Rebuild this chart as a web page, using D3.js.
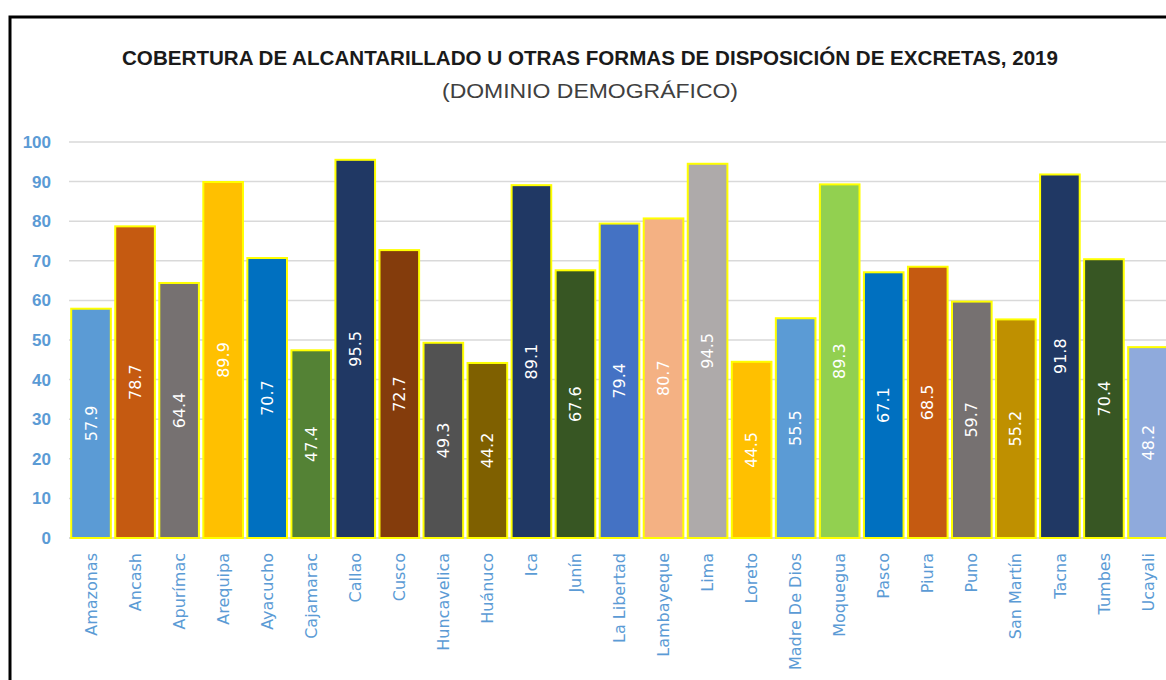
<!DOCTYPE html>
<html>
<head>
<meta charset="utf-8">
<script src="https://cdn.jsdelivr.net/npm/d3@7"></script>
<style>
  body { margin: 0; background: #fff; }
  svg { display: block; }
</style>
</head>
<body>
<svg id="chart" width="1166" height="680"></svg>
<script>
// Regions (labels kept as written in the source chart)
const regions = ["Amazonas", "Ancash", "Apurímac", "Arequipa", "Ayacucho", "Cajamarac",
  "Callao", "Cusco", "Huncavelica", "Huánuco", "Ica", "Junín", "La Libertad",
  "Lambayeque", "Lima", "Loreto", "Madre De Dios", "Moquegua", "Pasco", "Piura",
  "Puno", "San Martín", "Tacna", "Tumbes", "Ucayali"];

// Coverage values, %
const coverage = [57.9, 78.7, 64.4, 89.9, 70.7, 47.4, 95.5, 72.7, 49.3, 44.2, 89.1, 67.6,
  79.4, 80.7, 94.5, 44.5, 55.5, 89.3, 67.1, 68.5, 59.7, 55.2, 91.8, 70.4, 48.2];

const barColors = ["#5b9bd5", "#c55a11", "#767171", "#ffc000", "#0070c0", "#548235",
  "#203864", "#843c0c", "#525252", "#7f6000", "#203864", "#375623", "#4472c4",
  "#f4b183", "#aeaaaa", "#ffc000", "#5b9bd5", "#92d050", "#0070c0", "#c55a11",
  "#767171", "#bf9000", "#203864", "#375623", "#8faadc"];

const yTicks = [0, 10, 20, 30, 40, 50, 60, 70, 80, 90, 100];

const svg = d3.select("#chart");
const axisBlue = "#5b9bd5";
const font = "'Liberation Sans', Arial, sans-serif";

// outer frame (cut by the picture on right and bottom)
svg.append("rect")
  .attr("x", 10).attr("y", 17)
  .attr("width", 1200).attr("height", 700)
  .attr("fill", "none")
  .attr("stroke", "#000")
  .attr("stroke-width", 3);

// titles
svg.append("text")
  .attr("x", 590).attr("y", 65)
  .attr("text-anchor", "middle")
  .attr("font-family", font)
  .attr("font-weight", "bold")
  .attr("font-size", 21)
  .attr("fill", "#1a1a1a")
  .attr("textLength", 936)
  .attr("lengthAdjust", "spacingAndGlyphs")
  .text("COBERTURA  DE ALCANTARILLADO U OTRAS FORMAS DE DISPOSICIÓN  DE EXCRETAS, 2019");

svg.append("text")
  .attr("x", 590).attr("y", 98)
  .attr("text-anchor", "middle")
  .attr("font-family", font)
  .attr("font-size", 21)
  .attr("fill", "#404040")
  .attr("textLength", 296)
  .attr("lengthAdjust", "spacingAndGlyphs")
  .text("(DOMINIO DEMOGRÁFICO)");

// scales
const x = d3.scaleBand()
  .domain(regions)
  .range([69, 1170])
  .paddingInner(0.1)
  .paddingOuter(0.05);

const y = d3.scaleLinear()
  .domain([0, 100])
  .range([538, 142]);

// gridlines
svg.append("g")
  .selectAll("line")
  .data(yTicks)
  .join("line")
    .attr("x1", 69).attr("x2", 1166)
    .attr("y1", d => y(d)).attr("y2", d => y(d))
    .attr("stroke", "#d9d9d9")
    .attr("stroke-width", d => d === 0 ? 2 : 1.5);

// y axis labels
const yAxis = svg.append("g")
  .attr("transform", "translate(51,0)")
  .call(d3.axisLeft(y).tickValues(yTicks).tickSize(0).tickPadding(0));
yAxis.select(".domain").remove();
yAxis.selectAll("text")
  .attr("font-family", font)
  .attr("font-weight", "bold")
  .attr("font-size", 17)
  .attr("fill", axisBlue);

// bars
const data = regions.map((r, i) => ({ region: r, value: coverage[i], color: barColors[i] }));

svg.append("g")
  .selectAll("rect")
  .data(data)
  .join("rect")
    .attr("x", d => x(d.region))
    .attr("y", d => y(d.value))
    .attr("width", x.bandwidth())
    .attr("height", d => y(0) - y(d.value))
    .attr("fill", d => d.color)
    .attr("stroke", "#ffff00")
    .attr("stroke-width", 2);

// value labels, rotated, centred in each bar
svg.append("g")
  .selectAll("text")
  .data(data)
  .join("text")
    .attr("transform", d => `translate(${x(d.region) + x.bandwidth() / 2},${(y(d.value) + y(0)) / 2}) rotate(-90)`)
    .attr("text-anchor", "middle")
    .attr("dy", "0.35em")
    .attr("font-family", "'DejaVu Sans', sans-serif")
    .attr("font-size", 16)
    .attr("fill", "#fff")
    .text(d => d.value.toFixed(1));

// x axis labels
const xAxis = svg.append("g")
  .attr("transform", "translate(0,538)")
  .call(d3.axisBottom(x).tickSize(0).tickPadding(0));
xAxis.select(".domain").remove();
xAxis.selectAll("text")
  .attr("transform", "rotate(-90)")
  .attr("text-anchor", "end")
  .attr("x", -15)
  .attr("y", 0)
  .attr("dy", "0.35em")
  .attr("font-family", "'DejaVu Sans', sans-serif")
  .attr("font-size", 16)
  .attr("fill", axisBlue);
</script>
</body>
</html>
